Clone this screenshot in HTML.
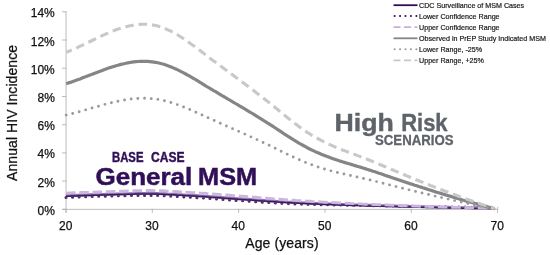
<!DOCTYPE html>
<html><head><meta charset="utf-8"><title>Annual HIV Incidence by Age</title>
<style>
html,body{margin:0;padding:0;background:#fff;}
svg{display:block;font-family:"Liberation Sans",sans-serif;}
.ax line{stroke:#b4b4b4;stroke-width:0.9;}
.tl text{font-size:12px;fill:#111;stroke:#111;stroke-width:0.25px;}
.lg text{font-size:7.15px;fill:#1a1a1a;stroke:#1a1a1a;stroke-width:0.2px;}
.big{font-weight:bold;}
</style></head><body>
<svg width="550" height="255" viewBox="0 0 550 255">
<defs><filter id="bl" x="-5%" y="-50%" width="110%" height="200%"><feGaussianBlur stdDeviation="0.55"/></filter></defs>
<rect width="550" height="255" fill="#fff"/>
<g class="ax">
<line x1="66.05" x2="66.05" y1="11.4" y2="212.7"/>
<line x1="62" x2="498" y1="209.35" y2="209.35"/>
<line x1="62" x2="66.5" y1="209.3" y2="209.3"/><line x1="62" x2="66.5" y1="181.1" y2="181.1"/><line x1="62" x2="66.5" y1="152.9" y2="152.9"/><line x1="62" x2="66.5" y1="124.7" y2="124.7"/><line x1="62" x2="66.5" y1="96.5" y2="96.5"/><line x1="62" x2="66.5" y1="68.2" y2="68.2"/><line x1="62" x2="66.5" y1="40.0" y2="40.0"/><line x1="62" x2="66.5" y1="11.8" y2="11.8"/><line x1="66.0" x2="66.0" y1="208.8" y2="212.8"/><line x1="152.3" x2="152.3" y1="208.8" y2="212.8"/><line x1="238.6" x2="238.6" y1="208.8" y2="212.8"/><line x1="325.0" x2="325.0" y1="208.8" y2="212.8"/><line x1="411.3" x2="411.3" y1="208.8" y2="212.8"/><line x1="497.6" x2="497.6" y1="208.8" y2="212.8"/><line x1="497.8" x2="497.8" y1="206.8" y2="209"/>
</g>
<g class="tl"><text x="54.8" y="214.8" text-anchor="end">0%</text><text x="54.8" y="186.6" text-anchor="end">2%</text><text x="54.8" y="158.4" text-anchor="end">4%</text><text x="54.8" y="130.2" text-anchor="end">6%</text><text x="54.8" y="102.0" text-anchor="end">8%</text><text x="54.8" y="73.8" text-anchor="end">10%</text><text x="54.8" y="45.5" text-anchor="end">12%</text><text x="54.8" y="17.3" text-anchor="end">14%</text><text x="65.7" y="229.9" text-anchor="middle">20</text><text x="152.0" y="229.9" text-anchor="middle">30</text><text x="238.3" y="229.9" text-anchor="middle">40</text><text x="324.7" y="229.9" text-anchor="middle">50</text><text x="411.0" y="229.9" text-anchor="middle">60</text><text x="497.3" y="229.9" text-anchor="middle">70</text>
<text x="281.9" y="248.3" text-anchor="middle" textLength="73.4" style="font-size:14px">Age (years)</text>
<text transform="translate(16.85,112.95) rotate(-90)" text-anchor="middle" textLength="136" style="font-size:14px">Annual HIV Incidence</text>
</g>
<g fill="none" stroke-linejoin="round">
<g filter="url(#bl)">
<path d="M66.0 198.1 L68.7 198.0 L71.4 197.9 L74.0 197.8 L76.7 197.7 L79.4 197.5 L82.1 197.4 L84.7 197.3 L87.4 197.3 L90.1 197.2 L92.8 197.1 L95.4 197.0 L98.1 196.9 L100.8 196.8 L103.5 196.8 L106.1 196.7 L108.8 196.6 L111.5 196.6 L114.2 196.5 L116.9 196.4 L119.5 196.4 L122.2 196.3 L124.9 196.3 L127.6 196.2 L130.2 196.2 L132.9 196.1 L135.6 196.1 L138.3 196.1 L140.9 196.0 L143.6 196.0 L146.3 196.0 L149.0 196.0 L151.6 196.0 L154.3 196.1 L157.0 196.1 L159.7 196.2 L162.4 196.3 L165.0 196.4 L167.7 196.6 L170.4 196.7 L173.1 196.8 L175.7 197.0 L178.4 197.2 L181.1 197.3 L183.8 197.5 L186.4 197.7 L189.1 197.8 L191.8 198.0 L194.5 198.1 L197.1 198.3 L199.8 198.5 L202.5 198.6 L205.2 198.8 L207.9 199.0 L210.5 199.2 L213.2 199.4 L215.9 199.6 L218.6 199.8 L221.2 200.0 L223.9 200.2 L226.6 200.4 L229.3 200.5 L231.9 200.7 L234.6 200.9 L237.3 201.1 L240.0 201.3 L242.6 201.4 L245.3 201.6 L248.0 201.8 L250.7 202.0 L253.4 202.1 L256.0 202.3 L258.7 202.5 L261.4 202.7 L264.1 202.8 L266.7 203.0 L269.4 203.2 L272.1 203.4 L274.8 203.5 L277.4 203.7 L280.1 203.8 L282.8 204.0 L285.5 204.1 L288.1 204.2 L290.8 204.4 L293.5 204.5 L296.2 204.6 L298.9 204.7 L301.5 204.7 L304.2 204.8 L306.9 204.9 L309.6 205.0 L312.2 205.0 L314.9 205.1 L317.6 205.2 L320.3 205.2 L322.9 205.3 L325.6 205.4 L328.3 205.4 L331.0 205.5 L333.6 205.5 L336.3 205.6 L339.0 205.6 L341.7 205.7 L344.4 205.7 L347.0 205.8 L349.7 205.8 L352.4 205.9 L355.1 205.9 L357.7 206.0 L360.4 206.0 L363.1 206.1 L365.8 206.1 L368.4 206.2 L371.1 206.2 L373.8 206.3 L376.5 206.3 L379.1 206.4 L381.8 206.4 L384.5 206.5 L387.2 206.5 L389.9 206.6 L392.5 206.6 L395.2 206.7 L397.9 206.7 L400.6 206.8 L403.2 206.8 L405.9 206.9 L408.6 206.9 L411.3 207.0 L413.9 207.0 L416.6 207.0 L419.3 207.1 L422.0 207.1 L424.6 207.2 L427.3 207.2 L430.0 207.3 L432.7 207.3 L435.4 207.3 L438.0 207.4 L440.7 207.4 L443.4 207.4 L446.1 207.5 L448.7 207.5 L451.4 207.6 L454.1 207.6 L456.8 207.6 L459.4 207.7 L462.1 207.7 L464.8 207.7 L467.5 207.8 L470.1 207.8 L472.8 207.8 L475.5 207.8 L478.2 207.9 L480.9 207.9 L483.5 207.9 L486.2 207.9 L488.9 208.0 L491.6 208.0" stroke="#4b2c70" stroke-width="3.1" stroke-dasharray="0 6.55" stroke-linecap="round" transform="translate(0,-0.6)"/>
<path d="M66.0 195.7 L68.7 195.6 L71.4 195.5 L74.0 195.4 L76.7 195.3 L79.4 195.2 L82.1 195.1 L84.7 195.0 L87.4 194.9 L90.1 194.8 L92.8 194.7 L95.4 194.6 L98.1 194.6 L100.8 194.5 L103.5 194.4 L106.1 194.3 L108.8 194.2 L111.5 194.2 L114.2 194.1 L116.9 194.0 L119.5 194.0 L122.2 193.9 L124.9 193.8 L127.6 193.7 L130.2 193.7 L132.9 193.6 L135.6 193.5 L138.3 193.5 L140.9 193.5 L143.6 193.4 L146.3 193.4 L149.0 193.4 L151.6 193.4 L154.3 193.5 L157.0 193.5 L159.7 193.6 L162.4 193.7 L165.0 193.8 L167.7 194.0 L170.4 194.1 L173.1 194.2 L175.7 194.4 L178.4 194.6 L181.1 194.7 L183.8 194.9 L186.4 195.1 L189.1 195.2 L191.8 195.4 L194.5 195.5 L197.1 195.7 L199.8 195.9 L202.5 196.0 L205.2 196.2 L207.9 196.4 L210.5 196.6 L213.2 196.8 L215.9 197.0 L218.6 197.2 L221.2 197.4 L223.9 197.6 L226.6 197.8 L229.3 198.0 L231.9 198.2 L234.6 198.4 L237.3 198.6 L240.0 198.8 L242.6 199.0 L245.3 199.1 L248.0 199.3 L250.7 199.5 L253.4 199.7 L256.0 199.9 L258.7 200.1 L261.4 200.3 L264.1 200.5 L266.7 200.7 L269.4 200.8 L272.1 201.0 L274.8 201.2 L277.4 201.4 L280.1 201.6 L282.8 201.7 L285.5 201.9 L288.1 202.1 L290.8 202.2 L293.5 202.4 L296.2 202.5 L298.9 202.6 L301.5 202.8 L304.2 202.9 L306.9 203.0 L309.6 203.1 L312.2 203.3 L314.9 203.4 L317.6 203.5 L320.3 203.6 L322.9 203.7 L325.6 203.8 L328.3 203.9 L331.0 204.0 L333.6 204.1 L336.3 204.2 L339.0 204.3 L341.7 204.4 L344.4 204.5 L347.0 204.6 L349.7 204.7 L352.4 204.8 L355.1 204.9 L357.7 204.9 L360.4 205.0 L363.1 205.1 L365.8 205.2 L368.4 205.3 L371.1 205.3 L373.8 205.4 L376.5 205.5 L379.1 205.6 L381.8 205.6 L384.5 205.7 L387.2 205.8 L389.9 205.9 L392.5 205.9 L395.2 206.0 L397.9 206.1 L400.6 206.1 L403.2 206.2 L405.9 206.3 L408.6 206.3 L411.3 206.4 L413.9 206.5 L416.6 206.5 L419.3 206.6 L422.0 206.7 L424.6 206.7 L427.3 206.8 L430.0 206.9 L432.7 206.9 L435.4 207.0 L438.0 207.1 L440.7 207.1 L443.4 207.2 L446.1 207.2 L448.7 207.3 L451.4 207.4 L454.1 207.4 L456.8 207.5 L459.4 207.5 L462.1 207.6 L464.8 207.6 L467.5 207.7 L470.1 207.7 L472.8 207.8 L475.5 207.8 L478.2 207.8 L480.9 207.9 L483.5 207.9 L486.2 207.9 L488.9 208.0 L491.6 208.0" stroke="#8d72ac" stroke-width="2.9"/>
<path d="M66.0 195.7 L68.7 195.6 L71.4 195.5 L74.0 195.4 L76.7 195.3 L79.4 195.2 L82.1 195.1 L84.7 195.0 L87.4 194.9 L90.1 194.8 L92.8 194.7 L95.4 194.6 L98.1 194.6 L100.8 194.5 L103.5 194.4 L106.1 194.3 L108.8 194.2 L111.5 194.2 L114.2 194.1 L116.9 194.0 L119.5 194.0 L122.2 193.9 L124.9 193.8 L127.6 193.7 L130.2 193.7 L132.9 193.6 L135.6 193.5 L138.3 193.5 L140.9 193.5 L143.6 193.4 L146.3 193.4 L149.0 193.4 L151.6 193.4 L154.3 193.5 L157.0 193.5 L159.7 193.6 L162.4 193.7 L165.0 193.8 L167.7 194.0 L170.4 194.1 L173.1 194.2 L175.7 194.4 L178.4 194.6 L181.1 194.7 L183.8 194.9 L186.4 195.1 L189.1 195.2 L191.8 195.4 L194.5 195.5 L197.1 195.7 L199.8 195.9 L202.5 196.0 L205.2 196.2 L207.9 196.4 L210.5 196.6 L213.2 196.8 L215.9 197.0 L218.6 197.2 L221.2 197.4 L223.9 197.6 L226.6 197.8 L229.3 198.0 L231.9 198.2 L234.6 198.4 L237.3 198.6 L240.0 198.8 L242.6 199.0 L245.3 199.1 L248.0 199.3 L250.7 199.5 L253.4 199.7 L256.0 199.9 L258.7 200.1 L261.4 200.3 L264.1 200.5 L266.7 200.7 L269.4 200.8 L272.1 201.0 L274.8 201.2 L277.4 201.4 L280.1 201.6 L282.8 201.7 L285.5 201.9 L288.1 202.1 L290.8 202.2 L293.5 202.4 L296.2 202.5 L298.9 202.6 L301.5 202.8 L304.2 202.9 L306.9 203.0 L309.6 203.1 L312.2 203.3 L314.9 203.4 L317.6 203.5 L320.3 203.6 L322.9 203.7 L325.6 203.8 L328.3 203.9 L331.0 204.0 L333.6 204.1 L336.3 204.2 L339.0 204.3 L341.7 204.4 L344.4 204.5 L347.0 204.6 L349.7 204.7 L352.4 204.8 L355.1 204.9 L357.7 204.9 L360.4 205.0 L363.1 205.1 L365.8 205.2 L368.4 205.3 L371.1 205.3 L373.8 205.4 L376.5 205.5 L379.1 205.6 L381.8 205.6 L384.5 205.7 L387.2 205.8 L389.9 205.9 L392.5 205.9 L395.2 206.0 L397.9 206.1 L400.6 206.1 L403.2 206.2 L405.9 206.3 L408.6 206.3 L411.3 206.4 L413.9 206.5 L416.6 206.5 L419.3 206.6 L422.0 206.7 L424.6 206.7 L427.3 206.8 L430.0 206.9 L432.7 206.9 L435.4 207.0 L438.0 207.1 L440.7 207.1 L443.4 207.2 L446.1 207.2 L448.7 207.3 L451.4 207.4 L454.1 207.4 L456.8 207.5 L459.4 207.5 L462.1 207.6 L464.8 207.6 L467.5 207.7 L470.1 207.7 L472.8 207.8 L475.5 207.8 L478.2 207.8 L480.9 207.9 L483.5 207.9 L486.2 207.9 L488.9 208.0 L491.6 208.0" stroke="#3a1a5e" stroke-width="1.5" transform="translate(0,0.6)"/>
<path d="M66.0 193.1 L68.7 193.0 L71.4 192.9 L74.0 192.8 L76.7 192.7 L79.4 192.6 L82.1 192.5 L84.7 192.5 L87.4 192.4 L90.1 192.3 L92.8 192.2 L95.4 192.1 L98.1 192.0 L100.8 191.9 L103.5 191.8 L106.1 191.8 L108.8 191.7 L111.5 191.6 L114.2 191.5 L116.9 191.4 L119.5 191.3 L122.2 191.2 L124.9 191.1 L127.6 191.0 L130.2 190.9 L132.9 190.8 L135.6 190.7 L138.3 190.6 L140.9 190.6 L143.6 190.5 L146.3 190.5 L149.0 190.5 L151.6 190.5 L154.3 190.6 L157.0 190.6 L159.7 190.7 L162.4 190.8 L165.0 190.9 L167.7 191.1 L170.4 191.2 L173.1 191.4 L175.7 191.5 L178.4 191.7 L181.1 191.9 L183.8 192.1 L186.4 192.2 L189.1 192.4 L191.8 192.6 L194.5 192.7 L197.1 192.9 L199.8 193.1 L202.5 193.2 L205.2 193.4 L207.9 193.6 L210.5 193.8 L213.2 194.0 L215.9 194.2 L218.6 194.4 L221.2 194.6 L223.9 194.8 L226.6 195.0 L229.3 195.2 L231.9 195.5 L234.6 195.7 L237.3 195.9 L240.0 196.1 L242.6 196.3 L245.3 196.5 L248.0 196.7 L250.7 196.9 L253.4 197.1 L256.0 197.3 L258.7 197.6 L261.4 197.8 L264.1 198.0 L266.7 198.2 L269.4 198.4 L272.1 198.6 L274.8 198.9 L277.4 199.1 L280.1 199.3 L282.8 199.5 L285.5 199.7 L288.1 199.9 L290.8 200.1 L293.5 200.3 L296.2 200.5 L298.9 200.6 L301.5 200.8 L304.2 201.0 L306.9 201.1 L309.6 201.3 L312.2 201.5 L314.9 201.6 L317.6 201.8 L320.3 201.9 L322.9 202.1 L325.6 202.2 L328.3 202.4 L331.0 202.5 L333.6 202.6 L336.3 202.8 L339.0 202.9 L341.7 203.1 L344.4 203.2 L347.0 203.3 L349.7 203.4 L352.4 203.6 L355.1 203.7 L357.7 203.8 L360.4 203.9 L363.1 204.1 L365.8 204.2 L368.4 204.3 L371.1 204.4 L373.8 204.5 L376.5 204.6 L379.1 204.7 L381.8 204.8 L384.5 204.9 L387.2 205.0 L389.9 205.1 L392.5 205.2 L395.2 205.3 L397.9 205.4 L400.6 205.5 L403.2 205.6 L405.9 205.7 L408.6 205.8 L411.3 205.9 L413.9 206.0 L416.6 206.1 L419.3 206.2 L422.0 206.3 L424.6 206.4 L427.3 206.4 L430.0 206.5 L432.7 206.6 L435.4 206.7 L438.0 206.8 L440.7 206.9 L443.4 207.0 L446.1 207.1 L448.7 207.1 L451.4 207.2 L454.1 207.3 L456.8 207.4 L459.4 207.4 L462.1 207.5 L464.8 207.5 L467.5 207.6 L470.1 207.6 L472.8 207.7 L475.5 207.8 L478.2 207.8 L480.9 207.8 L483.5 207.9 L486.2 207.9 L488.9 208.0 L491.6 208.0" stroke="#ccb5de" stroke-width="2.9" stroke-dasharray="9.6 3.7"/>
</g>
<path d="M66.2 83.7 L68.2 83.0 L70.2 82.4 L72.2 81.7 L74.2 81.0 L76.2 80.3 L78.2 79.6 L80.1 78.9 L82.1 78.1 L84.1 77.3 L86.1 76.6 L88.1 75.8 L90.1 75.0 L92.1 74.3 L94.1 73.5 L96.1 72.7 L98.1 71.9 L100.1 71.2 L102.1 70.5 L104.0 69.7 L106.0 69.0 L108.0 68.3 L110.0 67.6 L112.0 67.0 L114.0 66.4 L116.0 65.7 L118.0 65.2 L120.0 64.6 L122.0 64.1 L124.0 63.7 L126.0 63.2 L128.0 62.8 L129.9 62.5 L131.9 62.2 L133.9 61.9 L135.9 61.7 L137.9 61.5 L139.9 61.4 L141.9 61.3 L143.9 61.3 L145.9 61.3 L147.9 61.4 L149.9 61.6 L151.9 61.8 L153.9 62.1 L155.8 62.4 L157.8 62.8 L159.8 63.2 L161.8 63.8 L163.8 64.3 L165.8 65.0 L167.8 65.7 L169.8 66.4 L171.8 67.2 L173.8 68.1 L175.8 69.0 L177.8 69.9 L179.7 70.9 L181.7 71.9 L183.7 72.9 L185.7 74.0 L187.7 75.1 L189.7 76.2 L191.7 77.4 L193.7 78.5 L195.7 79.7 L197.7 80.9 L199.7 82.1 L201.7 83.3 L203.7 84.6 L205.6 85.8 L207.6 87.0 L209.6 88.2 L211.6 89.4 L213.6 90.6 L215.6 91.7 L217.6 92.9 L219.6 94.1 L221.6 95.3 L223.6 96.5 L225.6 97.6 L227.6 98.8 L229.6 100.0 L231.5 101.2 L233.5 102.3 L235.5 103.5 L237.5 104.7 L239.5 105.9 L241.5 107.0 L243.5 108.2 L245.5 109.4 L247.5 110.6 L249.5 111.8 L251.5 113.0 L253.5 114.2 L255.4 115.4 L257.4 116.7 L259.4 117.9 L261.4 119.1 L263.4 120.4 L265.4 121.6 L267.4 122.9 L269.4 124.1 L271.4 125.4 L273.4 126.7 L275.4 128.0 L277.4 129.3 L279.4 130.6 L281.3 131.9 L283.3 133.3 L285.3 134.6 L287.3 135.9 L289.3 137.1 L291.3 138.4 L293.3 139.7 L295.3 140.9 L297.3 142.1 L299.3 143.3 L301.3 144.4 L303.3 145.5 L305.3 146.6 L307.2 147.7 L309.2 148.7 L311.2 149.7 L313.2 150.6 L315.2 151.6 L317.2 152.5 L319.2 153.3 L321.2 154.2 L323.2 155.0 L325.2 155.8 L327.2 156.6 L329.2 157.3 L331.1 158.0 L333.1 158.8 L335.1 159.4 L337.1 160.1 L339.1 160.8 L341.1 161.4 L343.1 162.0 L345.1 162.6 L347.1 163.2 L349.1 163.8 L351.1 164.4 L353.1 165.0 L355.1 165.6 L357.0 166.2 L359.0 166.8 L361.0 167.4 L363.0 168.0 L365.0 168.6 L367.0 169.2 L369.0 169.9 L371.0 170.5 L373.0 171.2 L375.0 171.8 L377.0 172.5 L379.0 173.2 L381.0 173.8 L382.9 174.5 L384.9 175.2 L386.9 175.9 L388.9 176.5 L390.9 177.2 L392.9 177.9 L394.9 178.6 L396.9 179.2 L398.9 179.9 L400.9 180.6 L402.9 181.2 L404.9 181.9 L406.8 182.6 L408.8 183.2 L410.8 183.9 L412.8 184.5 L414.8 185.2 L416.8 185.8 L418.8 186.5 L420.8 187.1 L422.8 187.8 L424.8 188.4 L426.8 189.0 L428.8 189.7 L430.8 190.3 L432.7 190.9 L434.7 191.6 L436.7 192.2 L438.7 192.8 L440.7 193.4 L442.7 194.0 L444.7 194.6 L446.7 195.2 L448.7 195.8 L450.7 196.4 L452.7 197.0 L454.7 197.6 L456.7 198.2 L458.6 198.8 L460.6 199.4 L462.6 200.0 L464.6 200.5 L466.6 201.1 L468.6 201.7 L470.6 202.2 L472.6 202.8 L474.6 203.4 L476.6 203.9 L478.6 204.5 L480.6 205.0 L482.5 205.5 L484.5 206.1 L486.5 206.6 L488.5 207.1 L490.5 207.7 L492.5 208.2 L494.5 208.7" stroke="#858585" stroke-width="3.2"/>
<path d="M66.2 115.1 L68.2 114.6 L70.2 114.1 L72.2 113.6 L74.2 113.1 L76.2 112.6 L78.2 112.0 L80.1 111.5 L82.1 110.9 L84.1 110.3 L86.1 109.8 L88.1 109.2 L90.1 108.6 L92.1 108.0 L94.1 107.4 L96.1 106.9 L98.1 106.3 L100.1 105.7 L102.1 105.2 L104.0 104.6 L106.0 104.1 L108.0 103.6 L110.0 103.1 L112.0 102.6 L114.0 102.1 L116.0 101.6 L118.0 101.2 L120.0 100.8 L122.0 100.4 L124.0 100.1 L126.0 99.8 L128.0 99.5 L129.9 99.2 L131.9 99.0 L133.9 98.8 L135.9 98.6 L137.9 98.5 L139.9 98.4 L141.9 98.3 L143.9 98.3 L145.9 98.3 L147.9 98.4 L149.9 98.5 L151.9 98.7 L153.9 98.9 L155.8 99.1 L157.8 99.4 L159.8 99.8 L161.8 100.2 L163.8 100.6 L165.8 101.1 L167.8 101.6 L169.8 102.2 L171.8 102.8 L173.8 103.4 L175.8 104.1 L177.8 104.8 L179.7 105.5 L181.7 106.2 L183.7 107.0 L185.7 107.8 L187.7 108.7 L189.7 109.5 L191.7 110.4 L193.7 111.2 L195.7 112.1 L197.7 113.0 L199.7 113.9 L201.7 114.8 L203.7 115.8 L205.6 116.7 L207.6 117.6 L209.6 118.5 L211.6 119.4 L213.6 120.3 L215.6 121.1 L217.6 122.0 L219.6 122.9 L221.6 123.8 L223.6 124.7 L225.6 125.6 L227.6 126.5 L229.6 127.3 L231.5 128.2 L233.5 129.1 L235.5 130.0 L237.5 130.9 L239.5 131.7 L241.5 132.6 L243.5 133.5 L245.5 134.4 L247.5 135.3 L249.5 136.2 L251.5 137.1 L253.5 138.0 L255.4 138.9 L257.4 139.8 L259.4 140.7 L261.4 141.7 L263.4 142.6 L265.4 143.5 L267.4 144.5 L269.4 145.4 L271.4 146.4 L273.4 147.4 L275.4 148.3 L277.4 149.3 L279.4 150.3 L281.3 151.3 L283.3 152.3 L285.3 153.3 L287.3 154.2 L289.3 155.2 L291.3 156.1 L293.3 157.1 L295.3 158.0 L297.3 158.9 L299.3 159.8 L301.3 160.7 L303.3 161.5 L305.3 162.3 L307.2 163.1 L309.2 163.9 L311.2 164.6 L313.2 165.3 L315.2 166.0 L317.2 166.7 L319.2 167.3 L321.2 168.0 L323.2 168.6 L325.2 169.2 L327.2 169.8 L329.2 170.3 L331.1 170.9 L333.1 171.4 L335.1 171.9 L337.1 172.4 L339.1 172.9 L341.1 173.4 L343.1 173.8 L345.1 174.3 L347.1 174.8 L349.1 175.2 L351.1 175.6 L353.1 176.1 L355.1 176.5 L357.0 177.0 L359.0 177.4 L361.0 177.9 L363.0 178.3 L365.0 178.8 L367.0 179.3 L369.0 179.7 L371.0 180.2 L373.0 180.7 L375.0 181.2 L377.0 181.7 L379.0 182.2 L381.0 182.7 L382.9 183.2 L384.9 183.7 L386.9 184.2 L388.9 184.7 L390.9 185.3 L392.9 185.8 L394.9 186.3 L396.9 186.8 L398.9 187.3 L400.9 187.8 L402.9 188.3 L404.9 188.8 L406.8 189.3 L408.8 189.8 L410.8 190.3 L412.8 190.7 L414.8 191.2 L416.8 191.7 L418.8 192.2 L420.8 192.7 L422.8 193.2 L424.8 193.6 L426.8 194.1 L428.8 194.6 L430.8 195.1 L432.7 195.5 L434.7 196.0 L436.7 196.5 L438.7 196.9 L440.7 197.4 L442.7 197.9 L444.7 198.3 L446.7 198.8 L448.7 199.2 L450.7 199.7 L452.7 200.1 L454.7 200.6 L456.7 201.0 L458.6 201.4 L460.6 201.9 L462.6 202.3 L464.6 202.7 L466.6 203.2 L468.6 203.6 L470.6 204.0 L472.6 204.4 L474.6 204.9 L476.6 205.3 L478.6 205.7 L480.6 206.1 L482.5 206.5 L484.5 206.9 L486.5 207.3 L488.5 207.7 L490.5 208.1 L492.5 208.5 L494.5 208.9" stroke="#9a9a9a" stroke-width="2.9" stroke-dasharray="0 6.7" stroke-linecap="round"/>
<path d="M66.2 52.2 L68.2 51.5 L70.2 50.7 L72.2 49.8 L74.2 49.0 L76.2 48.1 L78.2 47.2 L80.1 46.2 L82.1 45.3 L84.1 44.3 L86.1 43.4 L88.1 42.4 L90.1 41.5 L92.1 40.5 L94.1 39.5 L96.1 38.6 L98.1 37.6 L100.1 36.7 L102.1 35.7 L104.0 34.8 L106.0 33.9 L108.0 33.1 L110.0 32.2 L112.0 31.4 L114.0 30.6 L116.0 29.8 L118.0 29.1 L120.0 28.5 L122.0 27.8 L124.0 27.2 L126.0 26.7 L128.0 26.2 L129.9 25.8 L131.9 25.4 L133.9 25.0 L135.9 24.8 L137.9 24.6 L139.9 24.4 L141.9 24.3 L143.9 24.3 L145.9 24.3 L147.9 24.5 L149.9 24.6 L151.9 24.9 L153.9 25.2 L155.8 25.6 L157.8 26.1 L159.8 26.7 L161.8 27.4 L163.8 28.1 L165.8 28.9 L167.8 29.8 L169.8 30.7 L171.8 31.7 L173.8 32.7 L175.8 33.9 L177.8 35.0 L179.7 36.2 L181.7 37.5 L183.7 38.8 L185.7 40.2 L187.7 41.5 L189.7 42.9 L191.7 44.4 L193.7 45.8 L195.7 47.3 L197.7 48.8 L199.7 50.3 L201.7 51.8 L203.7 53.4 L205.6 54.9 L207.6 56.4 L209.6 57.9 L211.6 59.4 L213.6 60.9 L215.6 62.3 L217.6 63.8 L219.6 65.3 L221.6 66.8 L223.6 68.2 L225.6 69.7 L227.6 71.2 L229.6 72.7 L231.5 74.1 L233.5 75.6 L235.5 77.1 L237.5 78.5 L239.5 80.0 L241.5 81.5 L243.5 83.0 L245.5 84.4 L247.5 85.9 L249.5 87.4 L251.5 88.9 L253.5 90.4 L255.4 92.0 L257.4 93.5 L259.4 95.0 L261.4 96.6 L263.4 98.1 L265.4 99.7 L267.4 101.3 L269.4 102.8 L271.4 104.4 L273.4 106.1 L275.4 107.7 L277.4 109.3 L279.4 111.0 L281.3 112.6 L283.3 114.2 L285.3 115.9 L287.3 117.5 L289.3 119.1 L291.3 120.7 L293.3 122.2 L295.3 123.8 L297.3 125.3 L299.3 126.8 L301.3 128.2 L303.3 129.6 L305.3 130.9 L307.2 132.3 L309.2 133.5 L311.2 134.8 L313.2 136.0 L315.2 137.1 L317.2 138.2 L319.2 139.3 L321.2 140.4 L323.2 141.4 L325.2 142.4 L327.2 143.4 L329.2 144.3 L331.1 145.2 L333.1 146.1 L335.1 147.0 L337.1 147.8 L339.1 148.6 L341.1 149.4 L343.1 150.2 L345.1 150.9 L347.1 151.7 L349.1 152.4 L351.1 153.2 L353.1 153.9 L355.1 154.6 L357.0 155.4 L359.0 156.1 L361.0 156.9 L363.0 157.6 L365.0 158.4 L367.0 159.2 L369.0 160.0 L371.0 160.8 L373.0 161.6 L375.0 162.4 L377.0 163.3 L379.0 164.1 L381.0 165.0 L382.9 165.8 L384.9 166.6 L386.9 167.5 L388.9 168.3 L390.9 169.2 L392.9 170.0 L394.9 170.9 L396.9 171.7 L398.9 172.6 L400.9 173.4 L402.9 174.2 L404.9 175.0 L406.8 175.9 L408.8 176.7 L410.8 177.5 L412.8 178.3 L414.8 179.2 L416.8 180.0 L418.8 180.8 L420.8 181.6 L422.8 182.4 L424.8 183.2 L426.8 184.0 L428.8 184.8 L430.8 185.6 L432.7 186.3 L434.7 187.1 L436.7 187.9 L438.7 188.7 L440.7 189.4 L442.7 190.2 L444.7 191.0 L446.7 191.7 L448.7 192.5 L450.7 193.2 L452.7 194.0 L454.7 194.7 L456.7 195.4 L458.6 196.2 L460.6 196.9 L462.6 197.6 L464.6 198.3 L466.6 199.1 L468.6 199.8 L470.6 200.5 L472.6 201.2 L474.6 201.9 L476.6 202.6 L478.6 203.2 L480.6 203.9 L482.5 204.6 L484.5 205.3 L486.5 205.9 L488.5 206.6 L490.5 207.2 L492.5 207.9 L494.5 208.5" stroke="#c8c8c8" stroke-width="3.1" stroke-dasharray="8.5 4.9" stroke-dashoffset="2.5"/>
</g>
<g class="big">
<text x="112" y="162.2" font-size="14.8" fill="#300f58" stroke="#300f58" stroke-width="0.45" textLength="31.5" lengthAdjust="spacingAndGlyphs">BASE</text>
<text x="151" y="162.2" font-size="14.8" fill="#300f58" stroke="#300f58" stroke-width="0.45" textLength="33.5" lengthAdjust="spacingAndGlyphs">CASE</text>
<text x="95.5" y="184.7" font-size="23.2" fill="#300f58" stroke="#300f58" stroke-width="0.5" textLength="96.8" lengthAdjust="spacingAndGlyphs">General</text>
<text x="198.1" y="184.7" font-size="23.2" fill="#300f58" stroke="#300f58" stroke-width="0.5" textLength="59" lengthAdjust="spacingAndGlyphs">MSM</text>
<text x="334.6" y="130.8" font-size="23.6" fill="#5e6369" stroke="#5e6369" stroke-width="0.4" textLength="59.3" lengthAdjust="spacingAndGlyphs">High</text>
<text x="401.2" y="130.8" font-size="23.6" fill="#5e6369" stroke="#5e6369" stroke-width="0.4" textLength="46.4" lengthAdjust="spacingAndGlyphs">Risk</text>
<text x="375" y="145.2" font-size="14" fill="#5e6369" stroke="#5e6369" stroke-width="0.3" textLength="78.5" lengthAdjust="spacingAndGlyphs">SCENARIOS</text>
</g>
<g class="lg">
<line x1="393.5" x2="417.5" y1="5.2" y2="5.2" stroke="#300f58" stroke-width="1.8"/>
<line x1="394.6" x2="417.5" y1="16.0" y2="16.0" stroke="#300f58" stroke-width="2.1" stroke-dasharray="0 5.45" stroke-linecap="round"/>
<line x1="393.5" x2="417.5" y1="27.1" y2="27.1" stroke="#c9b0dc" stroke-width="1.8" stroke-dasharray="7 3.5"/>
<line x1="393.5" x2="417.5" y1="38.3" y2="38.3" stroke="#858585" stroke-width="1.8"/>
<line x1="394.6" x2="417.5" y1="49.3" y2="49.3" stroke="#9a9a9a" stroke-width="2.1" stroke-dasharray="0 5.45" stroke-linecap="round"/>
<line x1="393.5" x2="417.5" y1="60.3" y2="60.3" stroke="#c8c8c8" stroke-width="1.8" stroke-dasharray="7 3.5"/>
<text x="419" y="7.9">CDC Surveillance of MSM Cases</text><text x="419" y="18.7">Lower Confidence Range</text><text x="419" y="29.8">Upper Confidence Range</text><text x="419" y="41.0">Observed in PrEP Study Indicated MSM</text><text x="419" y="52.0">Lower Range, -25%</text><text x="419" y="63.0">Upper Range, +25%</text></g>
</svg>
</body></html>
